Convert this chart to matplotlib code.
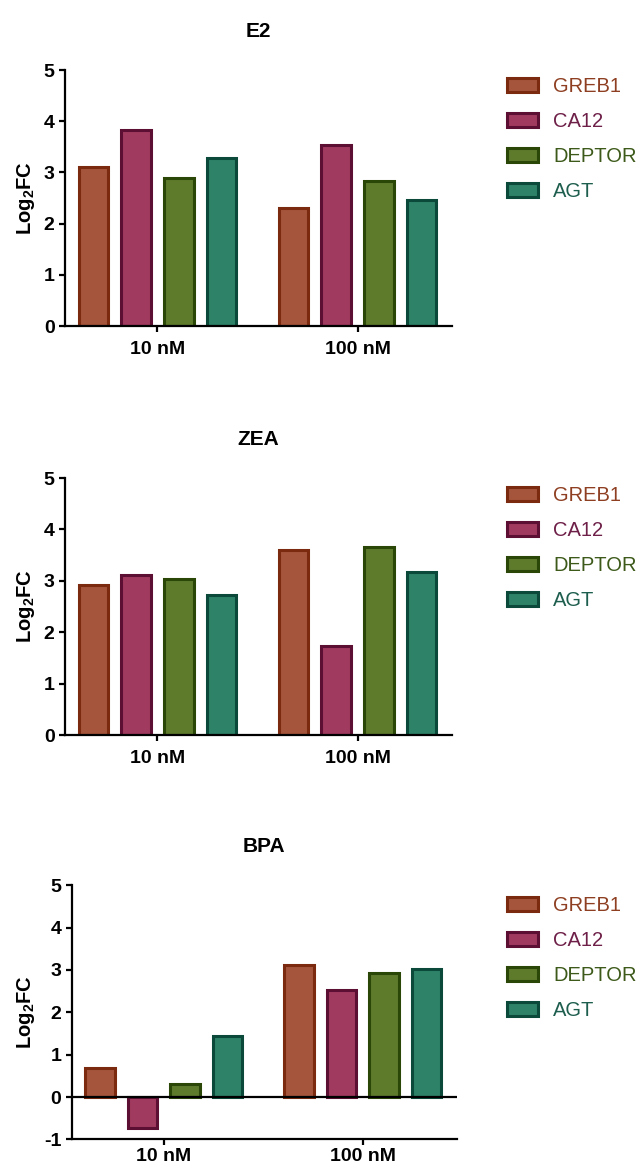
import matplotlib
matplotlib.use('Agg')
import matplotlib.pyplot as plt
import numpy as np

plt.rcParams['font.family'] = ['Liberation Sans', 'DejaVu Sans']
plt.rcParams['mathtext.fontset'] = 'custom'
plt.rcParams['mathtext.rm'] = 'Liberation Sans'
plt.rcParams['mathtext.bf'] = 'Liberation Sans:bold'
plt.rcParams['axes.unicode_minus'] = False

# datos
doses = ['10 nM', '100 nM']
genes = ['GREB1', 'CA12', 'DEPTOR', 'AGT']
titles = ['E2', 'ZEA', 'BPA']

e2 = [[3.10, 3.83, 2.89, 3.28],
      [2.30, 3.54, 2.83, 2.46]]
zea = [[2.92, 3.12, 3.04, 2.73],
       [3.60, 1.74, 3.65, 3.18]]
bpa = [[0.68, -0.74, 0.30, 1.43],
       [3.12, 2.52, 2.93, 3.02]]
valores = [e2, zea, bpa]

ylims = [(0, 5), (0, 5), (-1, 5)]
yticks = [[0, 1, 2, 3, 4, 5], [0, 1, 2, 3, 4, 5], [-1, 0, 1, 2, 3, 4, 5]]

face = ['#A4553B', '#A03A5E', '#5E7A2B', '#2D8268']
edge = ['#7B2A0F', '#5C0F32', '#2B4707', '#0B4A3A']
texto = ['#8E3F22', '#6E2048', '#3D5A1A', '#1E5E4E']

# posiciones de los ejes (fraccion de figura)
rects = [[0.1016, 0.7216, 0.6047, 0.2186],
         [0.1016, 0.3723, 0.6047, 0.2195],
         [0.1120, 0.0270, 0.6020, 0.2170]]
leg_y = [1 - 77 / 1171, 1 - 486 / 1171, 1 - 896 / 1171]
xpad = [6, 6, 2]

fig = plt.figure(figsize=(6.4, 11.71), dpi=100)

x = np.arange(len(doses))
paso = 0.2135
ancho = 0.148

for k in range(3):
    ax = fig.add_axes(rects[k])
    datos = np.array(valores[k])
    handles = []
    for i, g in enumerate(genes):
        b = ax.bar(x + (i - 1.5) * paso, datos[:, i], width=ancho,
                   color=face[i], edgecolor=edge[i], linewidth=2.2,
                   label=g, zorder=2)
        handles.append(b)
    ax.set_xlim(-0.462, 1.472)
    ax.set_ylim(*ylims[k])
    ax.set_yticks(yticks[k])
    ax.set_xticks(x)
    ax.set_xticklabels(doses)
    for s in ['top', 'right']:
        ax.spines[s].set_visible(False)
    for s in ['left', 'bottom']:
        ax.spines[s].set_linewidth(1.6)
    ax.tick_params(axis='both', length=4.5, width=1.6, labelsize=14, pad=3)
    ax.tick_params(axis='x', pad=xpad[k])
    for lab in ax.get_xticklabels() + ax.get_yticklabels():
        lab.set_fontweight('bold')
    if ylims[k][0] < 0:
        ax.axhline(0, color='black', lw=1.6, zorder=3)
    ax.set_ylabel(r'Log$_{\mathbf{2}}$FC', fontsize=14.5, fontweight='bold', labelpad=5)
    ax.set_title(titles[k], fontsize=15, fontweight='bold', pad=24)

    leg = fig.legend(handles=handles, labels=genes, loc='upper left',
                     bbox_to_anchor=(0.792, leg_y[k]), frameon=False,
                     fontsize=14.5, handlelength=1.55, handleheight=0.7,
                     handletextpad=0.75, labelspacing=0.8, borderpad=0,
                     borderaxespad=0)
    for t, c in zip(leg.get_texts(), texto):
        t.set_color(c)

fig.savefig('out.png', dpi=100)
